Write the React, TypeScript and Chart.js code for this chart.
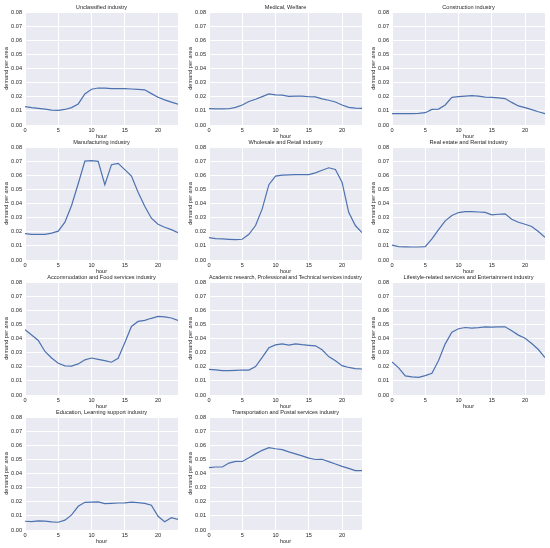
import React, { useEffect, useRef } from "react";
import { Chart, registerables } from "chart.js";

Chart.register(...registerables);

const hours = [0, 1, 2, 3, 4, 5, 6, 7, 8, 9, 10, 11, 12, 13, 14, 15, 16, 17, 18, 19, 20, 21, 22, 23];
const xTicks = [0, 5, 10, 15, 20];
const yTicks = [0, 0.01, 0.02, 0.03, 0.04, 0.05, 0.06, 0.07, 0.08];

const titles = [
  "Unclassified industry",
  "Medical, Welfare",
  "Construction industry",
  "Manufacturing industry",
  "Wholesale and Retail industry",
  "Real estate and Rental industry",
  "Accommodation and Food services industry",
  "Academic research, Professional and Technical services industry",
  "Lifestyle-related services and Entertainment industry",
  "Education, Learning support industry",
  "Transportation and Postal services industry",
];

const unclassified = [0.0130, 0.0123, 0.0118, 0.0112, 0.0106, 0.0103, 0.0110, 0.0123, 0.0149, 0.0220, 0.0253, 0.0262, 0.0261, 0.0258, 0.0257, 0.0257, 0.0255, 0.0252, 0.0249, 0.0222, 0.0196, 0.0178, 0.0162, 0.0147];
const medical = [0.0116, 0.0114, 0.0114, 0.0115, 0.0125, 0.0142, 0.0166, 0.0182, 0.0201, 0.0220, 0.0213, 0.0211, 0.0203, 0.0204, 0.0204, 0.0200, 0.0199, 0.0185, 0.0175, 0.0163, 0.0142, 0.0125, 0.0120, 0.0117];
const construction = [0.0080, 0.0080, 0.0080, 0.0081, 0.0083, 0.0087, 0.0110, 0.0113, 0.0142, 0.0196, 0.0201, 0.0204, 0.0208, 0.0204, 0.0198, 0.0196, 0.0192, 0.0187, 0.0160, 0.0135, 0.0123, 0.0109, 0.0094, 0.0081];
const manufacturing = [0.0187, 0.0182, 0.0182, 0.0182, 0.0190, 0.0204, 0.0268, 0.0386, 0.0540, 0.0700, 0.0704, 0.0698, 0.0533, 0.0675, 0.0684, 0.0640, 0.0594, 0.0480, 0.0380, 0.0296, 0.0253, 0.0232, 0.0215, 0.0194];
const wholesale = [0.0159, 0.0152, 0.0149, 0.0146, 0.0144, 0.0147, 0.0182, 0.0244, 0.0362, 0.0533, 0.0594, 0.0601, 0.0603, 0.0604, 0.0605, 0.0605, 0.0617, 0.0635, 0.0653, 0.0641, 0.0551, 0.0338, 0.0244, 0.0194];
const realEstate = [0.0106, 0.0095, 0.0093, 0.0092, 0.0092, 0.0095, 0.0149, 0.0215, 0.0277, 0.0315, 0.0336, 0.0343, 0.0342, 0.0340, 0.0337, 0.0320, 0.0324, 0.0327, 0.0289, 0.0267, 0.0253, 0.0237, 0.0202, 0.0161];
const accommodation = [0.0462, 0.0425, 0.0386, 0.0308, 0.0262, 0.0225, 0.0206, 0.0204, 0.0220, 0.0249, 0.0262, 0.0252, 0.0243, 0.0232, 0.0260, 0.0370, 0.0485, 0.0521, 0.0528, 0.0543, 0.0556, 0.0553, 0.0545, 0.0528];
const academic = [0.0182, 0.0178, 0.0173, 0.0172, 0.0174, 0.0177, 0.0176, 0.0201, 0.0267, 0.0334, 0.0355, 0.0362, 0.0353, 0.0362, 0.0356, 0.0352, 0.0348, 0.0320, 0.0272, 0.0242, 0.0208, 0.0195, 0.0187, 0.0184];
const lifestyle = [0.0234, 0.0192, 0.0135, 0.0128, 0.0125, 0.0137, 0.0154, 0.0244, 0.0362, 0.0445, 0.0469, 0.0478, 0.0474, 0.0477, 0.0482, 0.0481, 0.0482, 0.0483, 0.0455, 0.0424, 0.0402, 0.0365, 0.0322, 0.0265];
const education = [0.0062, 0.0059, 0.0065, 0.0063, 0.0058, 0.0055, 0.0070, 0.0107, 0.0168, 0.0196, 0.0198, 0.0199, 0.0187, 0.0189, 0.0191, 0.0192, 0.0198, 0.0194, 0.0189, 0.0175, 0.0097, 0.0058, 0.0087, 0.0075];
const transportation = [0.0441, 0.0446, 0.0446, 0.0474, 0.0486, 0.0485, 0.0511, 0.0539, 0.0564, 0.0583, 0.0575, 0.0569, 0.0553, 0.0539, 0.0525, 0.0509, 0.0499, 0.0501, 0.0484, 0.0467, 0.0450, 0.0436, 0.0420, 0.0420];

const seriesList = [
  unclassified, medical, construction,
  manufacturing, wholesale, realEstate,
  accommodation, academic, lifestyle,
  education, transportation,
];

const FONT = "'Liberation Sans', Arial, 'DejaVu Sans', sans-serif";
const TEXT = "#262626";
const COL_LEFT = [25, 209, 392];
const ROW_TOP = [12, 147, 282, 417];
const PLOT_W = 153;
const PLOT_H = 113;
const Y_AXIS_W = 22;
const TITLE_H = 13;
const X_AXIS_H = 15.3;
const CANVAS_W = Y_AXIS_W + PLOT_W + Y_AXIS_W;
const CANVAS_H = 142;

const bgPlugin = {
  id: "plotBg",
  beforeDraw(chart: any) {
    const { ctx, chartArea } = chart;
    if (!chartArea) return;
    ctx.save();
    ctx.fillStyle = "#EAEAF2";
    ctx.fillRect(chartArea.left, chartArea.top, chartArea.right - chartArea.left, chartArea.bottom - chartArea.top);
    ctx.restore();
  },
};

function Panel({ title, values, col, row }: { title: string; values: number[]; col: number; row: number }) {
  const ref = useRef<HTMLCanvasElement | null>(null);
  useEffect(() => {
    if (!ref.current) return;
    const chart = new Chart(ref.current, {
      type: "line",
      data: {
        datasets: [
          {
            data: hours.map((h, i) => ({ x: h, y: values[i] })),
            borderColor: "#4C72B0",
            borderWidth: 1.2,
            pointRadius: 0,
            tension: 0,
            fill: false,
          },
        ],
      },
      options: {
        animation: false,
        responsive: false,
        maintainAspectRatio: false,
        layout: { padding: { left: 0, right: Y_AXIS_W, top: 0, bottom: CANVAS_H - TITLE_H - PLOT_H - X_AXIS_H } },
        plugins: {
          legend: { display: false },
          tooltip: { enabled: false },
          title: {
            display: true,
            fullSize: false,
            text: title,
            color: TEXT,
            font: { family: FONT, size: 5.6, weight: "normal" as any, lineHeight: 1.2 },
            padding: { top: 5, bottom: TITLE_H - 5 - 5.6 * 1.2 },
          },
        },
        scales: {
          x: {
            type: "linear",
            min: 0,
            max: 23,
            afterBuildTicks: (scale: any) => {
              scale.ticks = xTicks.map((v) => ({ value: v }));
            },
            afterFit: (scale: any) => {
              scale.height = X_AXIS_H;
            },
            ticks: {
              color: TEXT,
              font: { family: FONT, size: 5.6 },
              padding: 2.5,
              maxRotation: 0,
              autoSkip: false,
            },
            grid: { color: "#FFFFFF", lineWidth: 1, drawTicks: false },
            border: { display: false },
            title: {
              display: true,
              text: "hour",
              color: TEXT,
              font: { family: FONT, size: 5.6 },
              padding: 0,
            },
          },
          y: {
            type: "linear",
            min: 0,
            max: 0.08,
            afterBuildTicks: (scale: any) => {
              scale.ticks = yTicks.map((v) => ({ value: v }));
            },
            afterFit: (scale: any) => {
              scale.width = Y_AXIS_W;
            },
            ticks: {
              color: TEXT,
              font: { family: FONT, size: 5.6 },
              padding: 3,
              autoSkip: false,
              callback: (v: any) => Number(v).toFixed(2),
            },
            grid: { color: "#FFFFFF", lineWidth: 1, drawTicks: false },
            border: { display: false },
            title: {
              display: true,
              text: "demand per area",
              color: TEXT,
              font: { family: FONT, size: 5.6 },
              padding: 0,
            },
          },
        },
      },
      plugins: [bgPlugin],
    } as any);
    return () => chart.destroy();
  }, [title, values]);

  return (
    <canvas
      ref={ref}
      width={CANVAS_W}
      height={CANVAS_H}
      style={{
        position: "absolute",
        left: COL_LEFT[col] - Y_AXIS_W,
        top: ROW_TOP[row] - TITLE_H,
        width: CANVAS_W,
        height: CANVAS_H,
      }}
    />
  );
}

export default function App() {
  return (
    <div style={{ position: "absolute", left: 0, top: 0, width: 550, height: 548, background: "#FFFFFF" }}>
      {titles.map((t, i) => (
        <Panel key={t} title={t} values={seriesList[i]} col={i % 3} row={Math.floor(i / 3)} />
      ))}
    </div>
  );
}
